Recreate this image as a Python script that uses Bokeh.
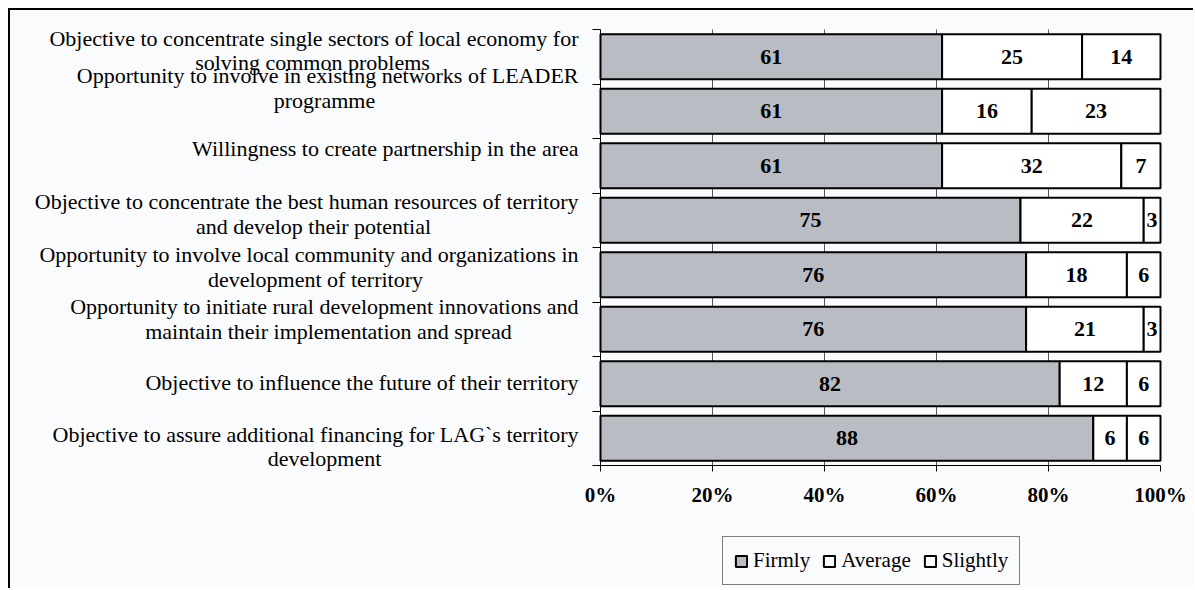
import numpy as np
from bokeh.plotting import figure
from bokeh.models import Range1d, FixedTicker, Legend, ColumnDataSource
from bokeh.core.properties import value
from bokeh.embed import file_html
from bokeh.resources import INLINE

# ---------------- data ----------------
categories = [
    "Objective to concentrate single sectors of local economy for\nsolving common problems",
    "Opportunity to involve in existing networks of LEADER\nprogramme",
    "Willingness to create partnership in the area",
    "Objective to concentrate the best human resources of territory\nand develop their potential",
    "Opportunity to involve local community and organizations in\ndevelopment of territory",
    "Opportunity to initiate rural development innovations and\nmaintain their implementation and spread",
    "Objective to influence the future of their territory",
    "Objective to assure additional financing for LAG`s territory\ndevelopment",
]
series_names = ["Firmly", "Average", "Slightly"]
firmly = [61, 61, 61, 75, 76, 76, 82, 88]
average = [25, 16, 32, 22, 18, 21, 12, 6]
slightly = [14, 23, 7, 3, 6, 3, 6, 6]
x_ticks = [0, 20, 40, 60, 80, 100]
x_tick_labels = ["0%", "20%", "40%", "60%", "80%", "100%"]

# ---------------- layout / styling ----------------
BG = "#fafbfd"
FONT = "Liberation Serif"
colors = ["#b9bcc3", "#ffffff", "#ffffff"]
W, H = 1185, 580            # canvas size
X0, X1 = 590, 1150          # canvas px of 0% and 100%
YT, YB = 19, 455            # canvas px of top and bottom of the category area
# per-label line offsets (pixels above slot centre) and second-line centre (page px)
line_dy = [(18, -6), (36, 11), (17,), (19, -6), (20, -5), (23, -2), (1,), (4, -20)]
line2_cx = [312, 324, None, 313, 315, 328, None, 324]
AXIS_PAGE_X = 600

n = len(categories)
ypos = np.arange(n)[::-1] + 0.5
pxx = (X1 - X0) / 100.0
pxy = (YB - YT) / n

x_range = Range1d(-X0 / pxx, 100 + (W - X1) / pxx)
y_range = Range1d(-(H - YB) / pxy, n + YT / pxy)

p = figure(width=W, height=H, output_backend="svg", toolbar_location=None,
           x_range=x_range, y_range=y_range,
           min_border_left=0, min_border_right=0, min_border_top=0, min_border_bottom=0)
p.styles = {"margin-left": "8px", "margin-top": "8px",
            "border-top": "2px solid black", "border-left": "2px solid black"}
p.background_fill_color = BG
p.border_fill_color = BG
p.outline_line_color = None
p.xgrid.visible = False
p.ygrid.visible = False

# grid lines (only within the category area)
grid_x = x_ticks[1:-1]
p.segment(x0=grid_x, x1=grid_x, y0=[0] * len(grid_x), y1=[n] * len(grid_x),
          line_color="#555555", line_width=1)

vals = np.array([firmly, average, slightly], dtype=float)
rights = np.cumsum(vals, axis=0)
lefts = rights - vals

for k in range(3):
    src = ColumnDataSource(dict(y=ypos, left=lefts[k], right=rights[k],
                                mid=(lefts[k] + rights[k]) / 2,
                                txt=[str(int(v)) for v in vals[k]]))
    p.hbar(y="y", left="left", right="right", height=0.83, source=src,
           fill_color=colors[k], line_color="black", line_width=2,
           legend_label=series_names[k])
    p.text(x="mid", y="y", text="txt", source=src, text_align="center",
           text_baseline="middle", text_font=value(FONT), text_font_style="bold",
           text_font_size="22px", text_color="black")

# axes
xa = p.xaxis[0]
xa.fixed_location = 0
xa.bounds = (0, 100)
xa.ticker = FixedTicker(ticks=x_ticks)
xa.major_label_overrides = {t: l for t, l in zip(x_ticks, x_tick_labels)}
xa.major_label_text_font = FONT
xa.major_label_text_font_style = "bold"
xa.major_label_text_font_size = "21px"
xa.major_label_text_color = "black"
xa.major_label_standoff = 11
xa.major_tick_out = 6
xa.major_tick_in = 0
xa.minor_tick_line_color = None
xa.axis_line_color = "black"
xa.major_tick_line_color = "black"

ya = p.yaxis[0]
ya.fixed_location = 0
ya.bounds = (0, n)
ya.ticker = FixedTicker(ticks=list(range(n + 1)))
ya.major_label_overrides = {i: "" for i in range(n + 1)}
ya.major_tick_out = 8
ya.major_tick_in = 0
ya.minor_tick_line_color = None
ya.axis_line_color = "black"
ya.major_tick_line_color = "black"

# category labels
l1y, l1t, l2x, l2y, l2t = [], [], [], [], []
for i, cat in enumerate(categories):
    lines = cat.split("\n")
    l1t.append(lines[0])
    l1y.append(ypos[i] + line_dy[i][0] / pxy)
    if len(lines) > 1:
        l2t.append(lines[1])
        l2y.append(ypos[i] + line_dy[i][1] / pxy)
        l2x.append((line2_cx[i] - AXIS_PAGE_X) / pxx)
p.text(x=[0] * len(l1t), y=l1y, text=l1t, x_offset=-22, text_align="right",
       text_baseline="middle", text_font=value(FONT), text_font_size="22px", text_color="black")
p.text(x=l2x, y=l2y, text=l2t, text_align="center",
       text_baseline="middle", text_font=value(FONT), text_font_size="22px", text_color="black")

# legend
items = p.legend[0].items
p.legend[0].visible = False
legend = Legend(items=items, orientation="horizontal", location=(712, 5),
                label_text_font=FONT, label_text_font_size="21px", label_text_color="black",
                glyph_width=14, glyph_height=14, label_standoff=5, spacing=12,
                padding=11, margin=0, border_line_color="black", border_line_width=1,
                background_fill_color=BG, background_fill_alpha=1)
p.add_layout(legend, "center")

open("out.html", "w").write(file_html(p, INLINE))
